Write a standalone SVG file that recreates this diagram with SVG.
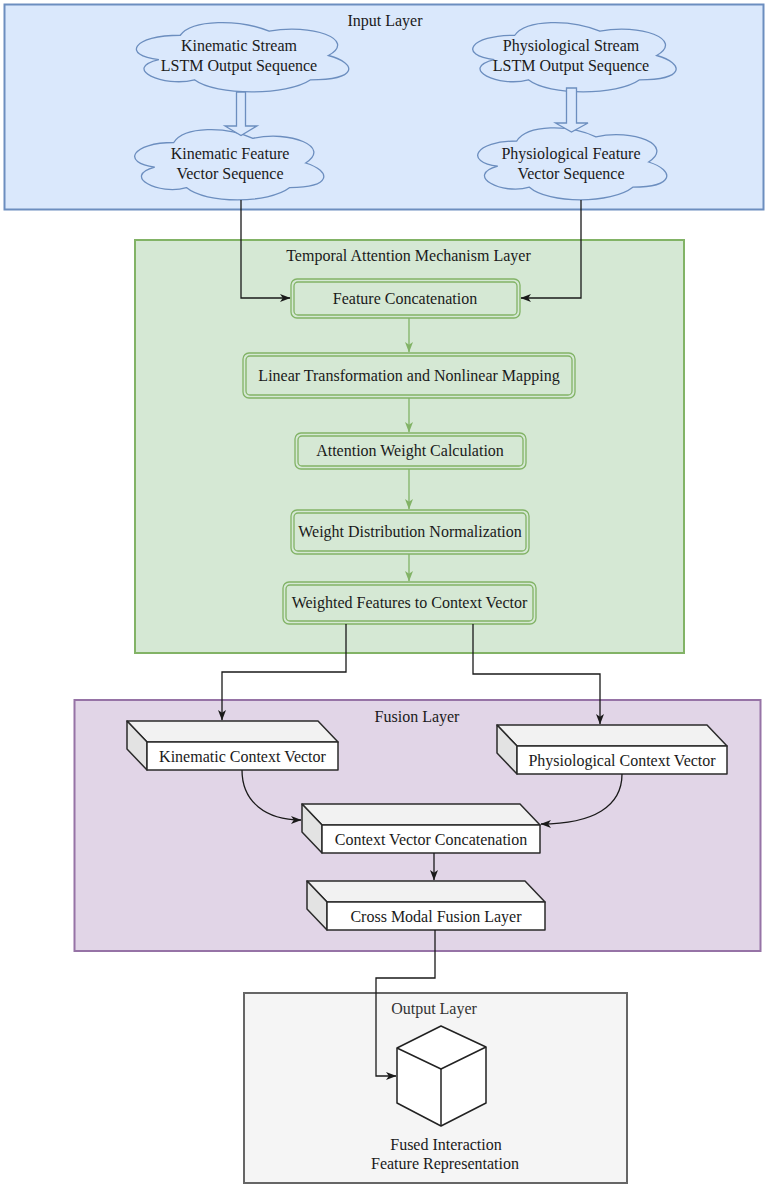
<svg xmlns="http://www.w3.org/2000/svg" width="767" height="1186" viewBox="0 0 767 1186">
<defs>
<marker id="ab" markerWidth="11" markerHeight="8" refX="10" refY="4" orient="auto" markerUnits="userSpaceOnUse"><path d="M0,0 L10.5,4 L0,8 L2.8,4 Z" fill="#1a1a1a"/></marker>
<marker id="ag" markerWidth="11" markerHeight="8" refX="10" refY="4" orient="auto" markerUnits="userSpaceOnUse"><path d="M0,0 L10.5,4 L0,8 L2.8,4 Z" fill="#82b366"/></marker>
<style>
text{font-family:"Liberation Serif","Times New Roman",serif;font-size:16px;fill:#1a1a1a;text-anchor:middle}
.cloud{fill:#dae8fc;stroke:#6c8ebf;stroke-width:1.3}
.blk{fill:#dae8fc;stroke:#6c8ebf;stroke-width:1.3}
.gb{fill:#d5e8d4;stroke:#82b366;stroke-width:1.3}
.gl{fill:none;stroke:#82b366;stroke-width:1.3}
.ln{fill:none;stroke:#1a1a1a;stroke-width:1.3}
.front{fill:#ffffff;stroke:#2b2b2b;stroke-width:1.5;stroke-linejoin:round}
.top{fill:#f2f2f2;stroke:#2b2b2b;stroke-width:1.5;stroke-linejoin:round}
.side{fill:#e3e3e3;stroke:#2b2b2b;stroke-width:1.5;stroke-linejoin:round}
</style>
</defs>

<g id="input-layer">
<rect x="4.5" y="4.5" width="759" height="205" fill="#dae8fc" stroke="#6c8ebf" stroke-width="2"/>
<text x="385" y="26">Input Layer</text>
</g>

<g id="temporal-layer">
<rect x="135" y="240" width="549" height="413" fill="#d5e8d4" stroke="#82b366" stroke-width="2"/>
<text x="408.5" y="261">Temporal Attention Mechanism Layer</text>
</g>

<g id="fusion-layer">
<rect x="74.5" y="700" width="686" height="251" fill="#e1d5e7" stroke="#9673a6" stroke-width="2"/>
<text x="417" y="722">Fusion Layer</text>
</g>

<g id="output-layer">
<rect x="244" y="993" width="383" height="190" fill="#f5f5f5" stroke="#666666" stroke-width="2"/>
<text x="434" y="1014" style="fill:#333333">Output Layer</text>
</g>

<g id="kin-stream">
<path class="cloud" d="M180.25 35.25 C132.85 35.25 121 55.5 158.92 59.55 C121 68.46 163.66 87.9 194.47 79.8 C215.8 96 286.9 96 310.6 79.8 C358 79.8 358 63.6 328.38 55.5 C358 39.3 310.6 23.1 269.13 31.2 C239.5 19.05 192.1 19.05 180.25 35.25 Z"/>
<text x="239" y="51">Kinematic Stream</text>
<text x="239" y="71">LSTM Output Sequence</text>
</g>

<g id="kin-feature">
<path class="cloud" d="M173.75 142.5 C131.55 142.5 121 163 154.76 167.1 C121 176.12 158.98 195.8 186.41 187.6 C205.4 204 268.7 204 289.8 187.6 C332 187.6 332 171.2 305.63 163 C332 146.6 289.8 130.2 252.88 138.4 C226.5 126.1 184.3 126.1 173.75 142.5 Z"/>
<text x="230" y="159">Kinematic Feature</text>
<text x="230" y="179">Vector Sequence</text>
</g>

<g id="phy-stream">
<path class="cloud" d="M514.75 35.25 C469.35 35.25 458 55.5 494.32 59.55 C458 68.46 498.86 87.9 528.37 79.8 C548.8 96 616.9 96 639.6 79.8 C685 79.8 685 63.6 656.63 55.5 C685 39.3 639.6 23.1 599.88 31.2 C571.5 19.05 526.1 19.05 514.75 35.25 Z"/>
<text x="571" y="51">Physiological Stream</text>
<text x="571" y="71">LSTM Output Sequence</text>
</g>

<g id="phy-feature">
<path class="cloud" d="M516.75 141 C474.55 141 464 162 497.76 166.2 C464 175.44 501.98 195.6 529.41 187.2 C548.4 204 611.7 204 632.8 187.2 C675 187.2 675 170.4 648.63 162 C675 145.2 632.8 128.4 595.88 136.8 C569.5 124.2 527.3 124.2 516.75 141 Z"/>
<text x="571" y="159">Physiological Feature</text>
<text x="571" y="179">Vector Sequence</text>
</g>

<g id="feature-concat">
<rect class="gb" x="291" y="279" width="229" height="39" rx="6"/>
<rect class="gl" x="294" y="282" width="223" height="33" rx="4"/>
<text x="405" y="303.5">Feature Concatenation</text>
</g>

<g id="linear-transform">
<rect class="gb" x="243" y="353" width="332" height="45" rx="6"/>
<rect class="gl" x="246" y="356" width="326" height="39" rx="4"/>
<text x="409" y="380.5">Linear Transformation and Nonlinear Mapping</text>
</g>

<g id="attention-weight">
<rect class="gb" x="295" y="433" width="231" height="36" rx="6"/>
<rect class="gl" x="298" y="436" width="225" height="30" rx="4"/>
<text x="410" y="456">Attention Weight Calculation</text>
</g>

<g id="weight-norm">
<rect class="gb" x="291" y="510" width="238" height="44" rx="6"/>
<rect class="gl" x="294" y="513" width="232" height="38" rx="4"/>
<text x="410" y="537">Weight Distribution Normalization</text>
</g>

<g id="weighted-features">
<rect class="gb" x="283" y="582" width="253" height="42" rx="6"/>
<rect class="gl" x="286" y="585" width="247" height="36" rx="4"/>
<text x="409.5" y="608">Weighted Features to Context Vector</text>
</g>

<g id="kin-context">
<polygon class="top" points="127,721 318,721 338,742 147,742"/>
<polygon class="side" points="127,721 147,742 147,770 127,749"/>
<rect class="front" x="147" y="742" width="191" height="28"/>
<text x="242.5" y="762">Kinematic Context Vector</text>
</g>

<g id="phy-context">
<polygon class="top" points="497,725 707,725 727,746 517,746"/>
<polygon class="side" points="497,725 517,746 517,774 497,753"/>
<rect class="front" x="517" y="746" width="210" height="28"/>
<text x="622" y="766">Physiological Context Vector</text>
</g>

<g id="context-concat">
<polygon class="top" points="302,804 520,804 540,825 322,825"/>
<polygon class="side" points="302,804 322,825 322,853 302,832"/>
<rect class="front" x="322" y="825" width="218" height="28"/>
<text x="431" y="845">Context Vector Concatenation</text>
</g>

<g id="cross-modal">
<polygon class="top" points="307,881 525,881 545,902 327,902"/>
<polygon class="side" points="307,881 327,902 327,930 307,909"/>
<rect class="front" x="327" y="902" width="218" height="28"/>
<text x="436" y="922">Cross Modal Fusion Layer</text>
</g>

<g id="fused-output">
<polygon points="441,1026 486,1047 486,1103 441,1126 397,1103 397,1048" fill="#ffffff" stroke="#222222" stroke-width="1.5" stroke-linejoin="round"/>
<polyline points="397,1048 441,1069 486,1047" fill="none" stroke="#222222" stroke-width="1.5" stroke-linejoin="round"/>
<line x1="441" y1="1069" x2="441" y2="1126" stroke="#222222" stroke-width="1.5"/>
<text x="446" y="1150">Fused Interaction</text>
<text x="445" y="1169">Feature Representation</text>
</g>

<g id="connectors">
<path class="blk" d="M236.5 92 L245.5 92 L245.5 126 L257 126 L241 135.5 L225 126 L236.5 126 Z"/>
<path class="blk" d="M566.5 88 L576.5 88 L576.5 123 L588 123 L571.5 132 L555.5 123 L566.5 123 Z"/>
<path class="ln" d="M241 200 L241 298 L290 298" marker-end="url(#ab)"/>
<path class="ln" d="M581 200 L581 298 L521 298" marker-end="url(#ab)"/>
<path class="gl" d="M409 318 L409 352" marker-end="url(#ag)"/>
<path class="gl" d="M409 398 L409 432" marker-end="url(#ag)"/>
<path class="gl" d="M409 469 L409 509" marker-end="url(#ag)"/>
<path class="gl" d="M409 554 L409 581" marker-end="url(#ag)"/>
<path class="ln" d="M346 624 L346 672 L222 672 L222 720" marker-end="url(#ab)"/>
<path class="ln" d="M473 624 L473 674 L600 674 L600 724" marker-end="url(#ab)"/>
<path class="ln" d="M242 770 C242 802 266 820 301 820" marker-end="url(#ab)"/>
<path class="ln" d="M622 774 C622 806 594 824 541 824" marker-end="url(#ab)"/>
<path class="ln" d="M434 853 L434 880" marker-end="url(#ab)"/>
<path class="ln" d="M435 930 L435 978 L376 978 L376 1076 L396 1076" marker-end="url(#ab)"/>
</g>
</svg>
